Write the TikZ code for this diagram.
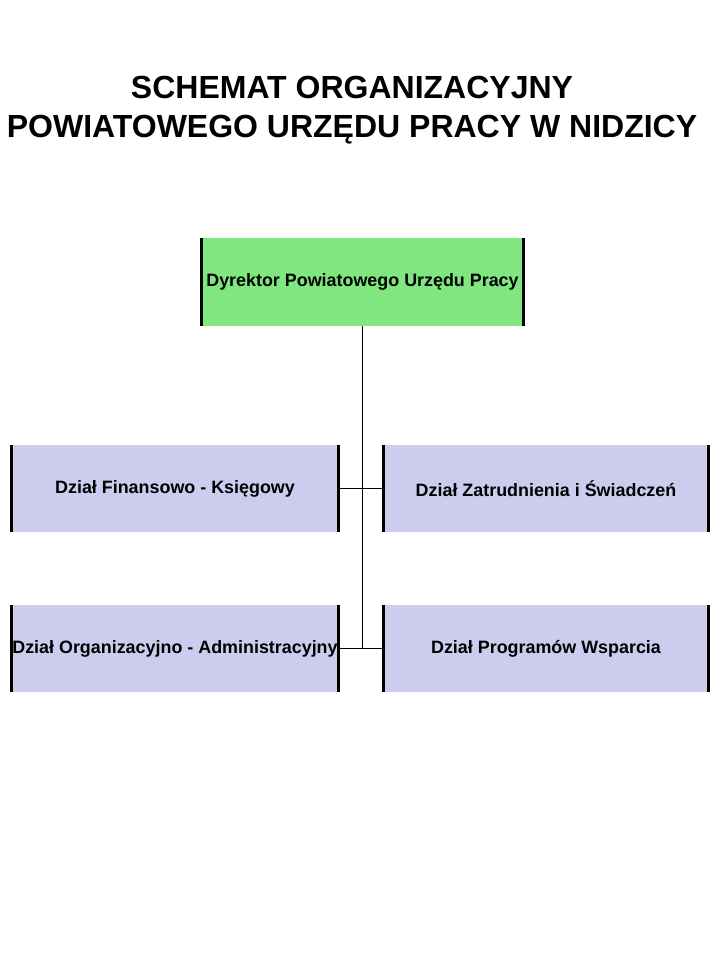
\documentclass[tikz,border=0pt]{standalone}
\usepackage{fontspec}
\setmainfont{Liberation Sans}
\usepackage{tikz}
\definecolor{dyrgreen}{RGB}{128,230,128}
\definecolor{dzialblue}{RGB}{204,204,238}
\begin{document}
\begin{tikzpicture}[x=1pt,y=-1pt,
	box/.style={rectangle,inner sep=0pt,minimum height=87pt,font=\fontsize{17.9}{21}\selectfont\bfseries},
	side/.style={line width=3pt},
	link/.style={line width=1pt}]
	\useasboundingbox (0,0) rectangle (720,960);
	\node[font=\fontsize{32}{39}\selectfont\bfseries,align=center] (title) at (352,110) {SCHEMAT ORGANIZACYJNY\\POWIATOWEGO URZĘDU PRACY W NIDZICY};
	\node[box,fill=dyrgreen,minimum width=321pt,minimum height=88pt] (dyr) at (362.5,282) {Dyrektor Powiatowego Urzędu Pracy};
	\node[box,fill=dzialblue,minimum width=326pt] (fin) at (175,488.5) {Dział Finansowo - Księgowy};
	\node[box,fill=dzialblue,minimum width=326pt] (org) at (175,648.5) {Dział Organizacyjno - Administracyjny};
	\node[box,fill=dzialblue,minimum width=324pt] (zat) at (546,488.5) {Dział Zatrudnienia i Świadczeń};
	\node[box,fill=dzialblue,minimum width=324pt] (prog) at (546,648.5) {Dział Programów Wsparcia};
	% thick sides
	\foreach \n in {dyr,fin,org,zat,prog} {
		\draw[side] (\n.north west) -- (\n.south west);
		\draw[side] (\n.north east) -- (\n.south east);
	}
	% connectors
	\draw[link] (dyr.south) -- (dyr.south |- org.east);
	\draw[link] (fin.east) -- (zat.west);
	\draw[link] (org.east) -- (prog.west);
\end{tikzpicture}
\end{document}
